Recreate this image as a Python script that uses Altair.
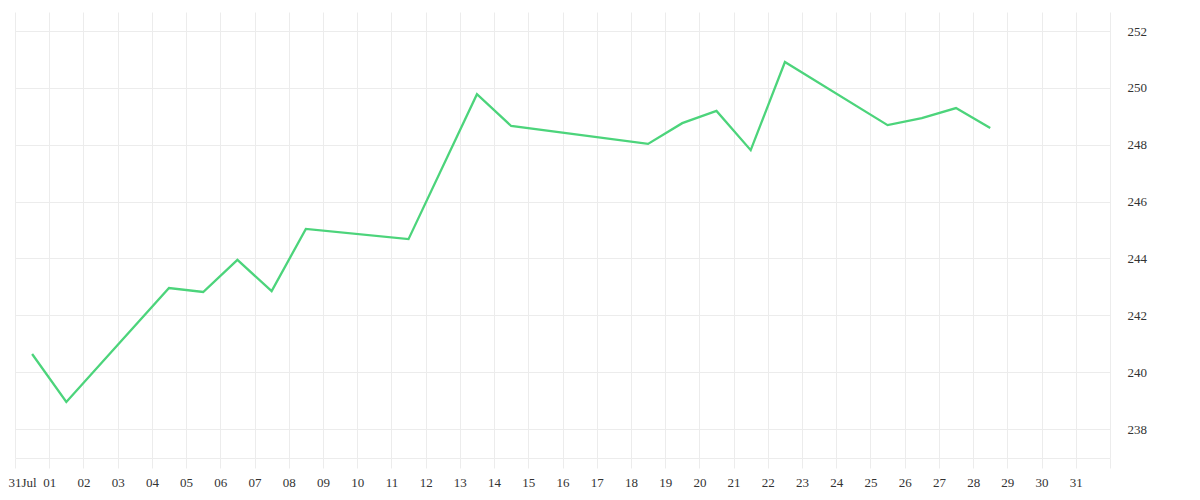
import altair as alt
import pandas as pd

dates = ["2014-07-31", "2014-08-01", "2014-08-04", "2014-08-05", "2014-08-06",
         "2014-08-07", "2014-08-08", "2014-08-11", "2014-08-13", "2014-08-14",
         "2014-08-18", "2014-08-19", "2014-08-20", "2014-08-21", "2014-08-22",
         "2014-08-25", "2014-08-26", "2014-08-27", "2014-08-28"]
values = [240.64, 238.95, 242.96, 242.82, 243.95,
          242.85, 245.04, 244.68, 249.78, 248.66,
          248.03, 248.76, 249.19, 247.81, 250.91,
          248.69, 248.94, 249.29, 248.59]

df = pd.DataFrame({"date": [d + "T12:00:00" for d in dates], "value": values})

grid = "#ececec"
font = "Liberation Serif"

chart = alt.Chart(df).mark_line(color="#4cd47b", strokeWidth=2.3).encode(
    x=alt.X("date:T",
            scale=alt.Scale(domain=["2014-07-31T00:00:00", "2014-09-01T00:00:00"], nice=False),
            axis=alt.Axis(title=None, tickCount={"interval": "day", "step": 1},
                          labelExpr="month(datum.value)==8 ? '' : (month(datum.value)==6 ? '31Jul' : timeFormat(datum.value, '%d'))",
                          labelAlign={"condition": {"test": "month(datum.value)==6", "value": "left"}, "value": "center"},
                          labelOffset={"condition": {"test": "month(datum.value)==6", "value": -7}, "value": 0},
                          grid=True, gridColor=grid, domainColor=grid, tickColor=grid,
                          tickSize=10, labelPadding=8, labelFont=font, labelFontSize=13,
                          labelColor="#333", labelOverlap=False, labelFlush=False)),
    y=alt.Y("value:Q",
            scale=alt.Scale(domain=[236.98, 252.67], nice=False, zero=False),
            axis=alt.Axis(title=None, orient="right", values=[238, 240, 242, 244, 246, 248, 250, 252],
                          grid=True, gridColor=grid, domain=False, ticks=False,
                          labelPadding=17, labelFont=font, labelFontSize=13, labelColor="#333")),
).properties(
    width=1095, height=446,
    padding={"left": 7, "top": 4, "right": 70, "bottom": 30},
    autosize=alt.AutoSizeParams(type="none"),
).configure_view(stroke=None)

chart.save("out.html", embed_options={"renderer": "svg", "actions": False})
